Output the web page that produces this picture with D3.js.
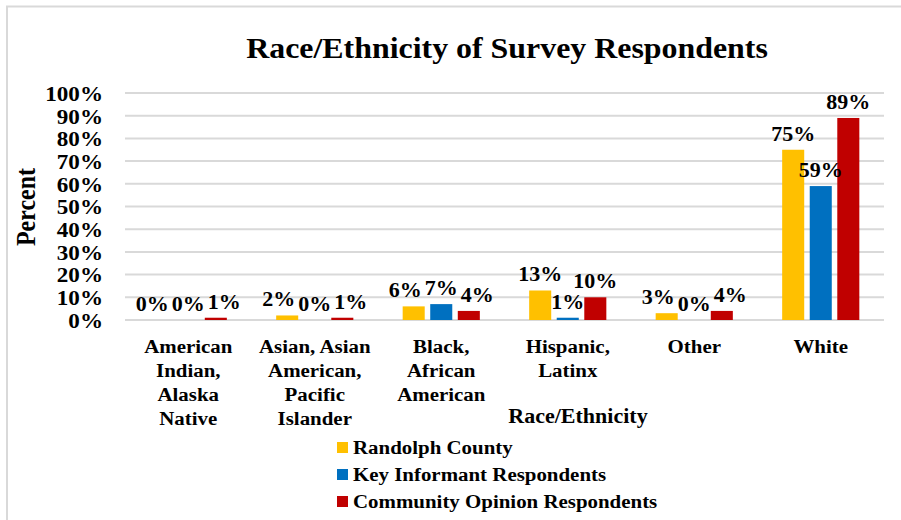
<!DOCTYPE html>
<html>
<head>
<meta charset="utf-8">
<script src="https://cdn.jsdelivr.net/npm/d3@7"></script>
<style>
  html, body { margin: 0; padding: 0; background: #fff; }
  svg { display: block; }
  svg text { font-family: "Liberation Serif", "Times New Roman", serif; font-weight: bold; fill: #000; }
</style>
</head>
<body>
<svg id="chart" width="901" height="520"></svg>
<script>
const categories = [
  ["American", "Indian,", "Alaska", "Native"],
  ["Asian, Asian", "American,", "Pacific", "Islander"],
  ["Black,", "African", "American"],
  ["Hispanic,", "Latinx"],
  ["Other"],
  ["White"]
];
const seriesNames = ["Randolph County", "Key Informant Respondents", "Community Opinion Respondents"];
const randolphCounty = [0, 2, 6, 13, 3, 75];
const keyInformant = [0, 0, 7, 1, 0, 59];
const communityOpinion = [1, 1, 4, 10, 4, 89];
const yTicks = [0, 10, 20, 30, 40, 50, 60, 70, 80, 90, 100];
const seriesColors = ["#FFC000", "#0070C0", "#C00000"];

const seriesValues = [randolphCounty, keyInformant, communityOpinion];
const SX = 1.1; // horizontal stretch of the original picture
const svg = d3.select("#chart");

function stretched(parent, x, y, extra) {
  return parent.append("g").attr("transform", `translate(${x},${y}) scale(${SX},1)${extra || ""}`);
}

// outer frame
svg.append("path")
  .attr("d", "M7,520 L7,6.5 L901,6.5")
  .attr("fill", "none").attr("stroke", "#d9d9d9").attr("stroke-width", 2);

const plotLeft = 125, plotRight = 884, plotTop = 93, plotBottom = 320;
const catIdx = categories.map((c, i) => i);
const x0 = d3.scaleBand().domain(catIdx).range([plotLeft, plotRight]).paddingInner(0.39).paddingOuter(0.195);
const x1 = d3.scaleBand().domain([0, 1, 2]).range([0, x0.bandwidth()]).paddingInner(0.2).paddingOuter(0);
const y = d3.scaleLinear().domain([0, 100]).range([plotBottom, plotTop]);

// title
stretched(svg, 507, 58).append("text").attr("text-anchor", "middle")
  .attr("font-size", 29).text("Race/Ethnicity of Survey Respondents");

// grid
svg.append("g").selectAll("line").data(yTicks).join("line")
  .attr("x1", plotLeft).attr("x2", plotRight)
  .attr("y1", d => y(d)).attr("y2", d => y(d))
  .attr("stroke", "#d9d9d9").attr("stroke-width", 2);

// y axis labels
const yAxis = d3.axisLeft(y).tickValues(yTicks).tickFormat(d => d + "%").tickSize(0).tickPadding(0);
const ya = svg.append("g").attr("transform", "translate(103,0)").call(yAxis);
ya.select(".domain").remove();
ya.selectAll("text").attr("font-size", 21).attr("dy", "0.35em")
  .attr("transform", `scale(${SX},1)`);

// y title
stretched(svg, 35, 207, " rotate(-90)").append("text").attr("text-anchor", "middle")
  .attr("font-size", 24).text("Percent");

// bars
const groups = svg.append("g").selectAll("g").data(catIdx).join("g")
  .attr("transform", i => `translate(${x0(i)},0)`);
groups.selectAll("rect").data(i => seriesValues.map((s, k) => ({k, v: s[i]}))).join("rect")
  .attr("x", d => x1(d.k)).attr("width", x1.bandwidth())
  .attr("y", d => y(d.v)).attr("height", d => y(0) - y(d.v))
  .attr("fill", d => seriesColors[d.k]);

// data labels with simple de-overlap
const labelLayer = svg.append("g");
catIdx.forEach(i => {
  const labs = seriesValues.map((s, k) => {
    const g = labelLayer.append("g");
    const t = g.append("text").attr("text-anchor", "middle").attr("font-size", 20).text(s[i] + "%");
    return {g, x: x0(i) + x1(k) + x1.bandwidth() / 2, y: y(s[i]) - 9, w: t.node().getComputedTextLength() * SX};
  });
  for (let it = 0; it < 4; it++) {
    for (let j = 0; j < labs.length - 1; j++) {
      const a = labs[j], b = labs[j + 1];
      const ov = (a.x + a.w / 2 + 3) - (b.x - b.w / 2);
      if (ov > 0 && Math.abs(a.y - b.y) < 14) { a.x -= ov / 2; b.x += ov / 2; }
    }
  }
  labs.forEach(l => l.g.attr("transform", `translate(${l.x},${l.y}) scale(${SX},1)`));
});

// category labels
catIdx.forEach(i => {
  const t = stretched(svg, x0(i) + x0.bandwidth() / 2, 0).append("text")
    .attr("text-anchor", "middle").attr("font-size", 19);
  categories[i].forEach((line, j) => {
    t.append("tspan").attr("x", 0).attr("y", 353 + j * 24).text(line);
  });
});

// x axis title
stretched(svg, 578, 423).append("text").attr("text-anchor", "middle")
  .attr("font-size", 20).text("Race/Ethnicity");

// legend
const leg = svg.append("g").selectAll("g").data(seriesNames).join("g")
  .attr("transform", (d, k) => `translate(337,${447 + k * 27})`);
leg.append("rect").attr("x", 0).attr("y", -5).attr("width", 11).attr("height", 11)
  .attr("fill", (d, k) => seriesColors[k]);
leg.append("g").attr("transform", `translate(16,7) scale(${SX},1)`)
  .append("text").attr("font-size", 19).text(d => d);
</script>
</body>
</html>
